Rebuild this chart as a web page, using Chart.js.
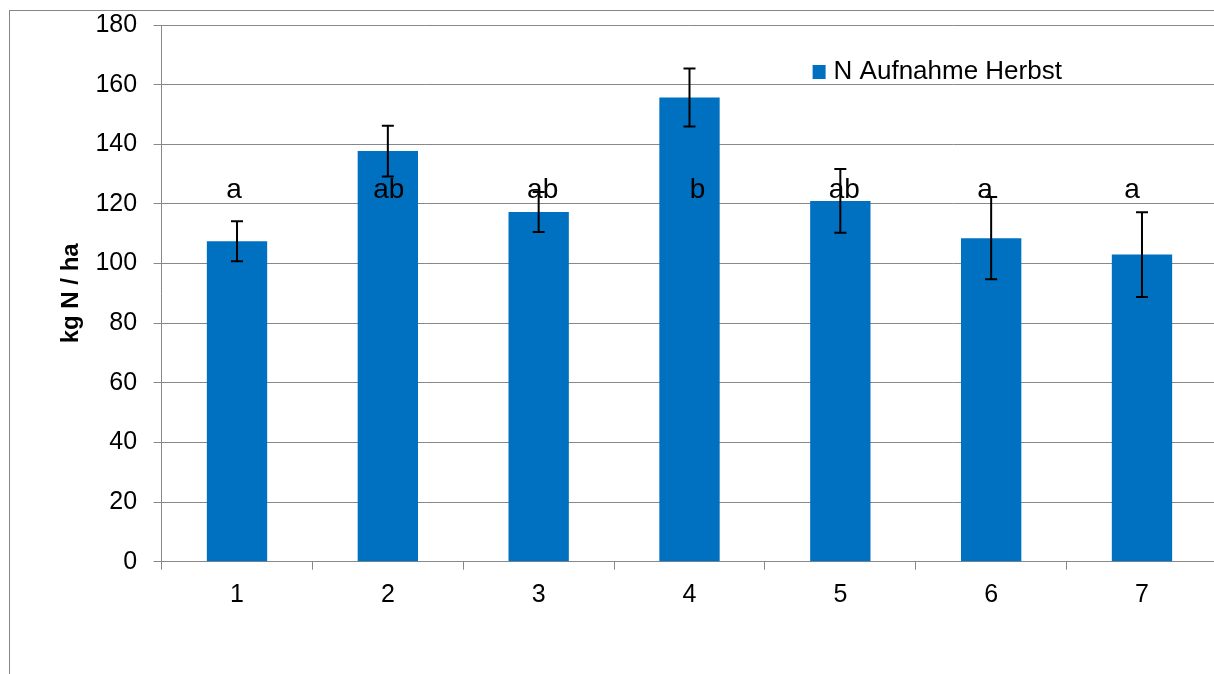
<!DOCTYPE html>
<html>
<head>
<meta charset="utf-8">
<title>N Aufnahme Herbst</title>
<script src="https://cdn.jsdelivr.net/npm/chart.js@4.4.1/dist/chart.umd.min.js"></script>
<style>
  html, body { margin: 0; padding: 0; background: #fff; overflow: hidden; }
  /* outer chart frame (only left/top edges fall inside the window) */
  #frame { position: absolute; left: 9px; top: 10px; width: 1300px; height: 700px;
           border-left: 1px solid #868686; border-top: 1px solid #868686; }
  #box { position: absolute; left: 0; top: 0; width: 1240px; height: 674px; }
</style>
</head>
<body>
<div id="frame"></div>
<div id="box"><canvas id="chartN"></canvas></div>
<script>
/* ---- data ---- */
const categories   = ['1', '2', '3', '4', '5', '6', '7'];
const nUptake      = [107.5, 137.7, 117.3, 155.7, 121.0, 108.5, 103.0];   // kg N / ha
const nUptakeSd    = [6.7, 8.5, 6.7, 9.7, 10.7, 13.8, 14.2];
const groupLetters = ['a', 'ab', 'ab', 'b', 'ab', 'a', 'a'];
const seriesName   = 'N Aufnahme Herbst';

const FONT = "'Liberation Sans', Arial, sans-serif";
const BLUE = '#0070c0';
const GRID = '#888888';

/* error bars (± sd) */
const errorBars = {
  id: 'errorBars',
  afterDatasetsDraw(chart) {
    const bars = chart.getDatasetMeta(0).data;
    const y = chart.scales.y;
    const ctx = chart.ctx;
    ctx.save();
    ctx.strokeStyle = '#000';
    ctx.lineWidth = 2;
    bars.forEach((bar, i) => {
      const top = y.getPixelForValue(nUptake[i] + nUptakeSd[i]);
      const bot = y.getPixelForValue(nUptake[i] - nUptakeSd[i]);
      ctx.beginPath();
      ctx.moveTo(bar.x, top);     ctx.lineTo(bar.x, bot);
      ctx.moveTo(bar.x - 6, top); ctx.lineTo(bar.x + 6, top);
      ctx.moveTo(bar.x - 6, bot); ctx.lineTo(bar.x + 6, bot);
      ctx.stroke();
    });
    ctx.restore();
  }
};

/* significance letters on one common level, plus the legend inside the plot */
const letterNudge = [-3, 1, 4, 8, 4, -6, -10];
const annotations = {
  id: 'annotations',
  afterDraw(chart) {
    const bars = chart.getDatasetMeta(0).data;
    const area = chart.chartArea;
    const ctx = chart.ctx;
    const yLevel = chart.scales.y.getPixelForValue(122);
    ctx.save();
    ctx.fillStyle = '#000';
    ctx.font = '28px ' + FONT;
    ctx.textAlign = 'center';
    ctx.textBaseline = 'alphabetic';
    bars.forEach((bar, i) => ctx.fillText(groupLetters[i], bar.x + letterNudge[i], yLevel));

    // legend
    const lx = area.left + 651, ly = area.top + 40;
    ctx.fillStyle = BLUE;
    ctx.fillRect(lx, ly, 13, 14);
    ctx.fillStyle = '#000';
    ctx.font = '26px ' + FONT;
    ctx.textAlign = 'left';
    ctx.textBaseline = 'middle';
    ctx.fillText(seriesName, lx + 21, ly + 7);
    ctx.restore();
  }
};

new Chart(document.getElementById('chartN'), {
  type: 'bar',
  data: {
    labels: categories,
    datasets: [{
      label: seriesName,
      data: nUptake,
      backgroundColor: BLUE,
      borderWidth: 0,
      barPercentage: 0.4,
      categoryPercentage: 1.0
    }]
  },
  options: {
    responsive: true,
    maintainAspectRatio: false,
    animation: false,
    layout: { padding: { left: 0, top: 25, right: 22.6, bottom: 52.3 } },
    plugins: { legend: { display: false }, tooltip: { enabled: false } },
    scales: {
      x: {
        afterFit(scale) { scale.height = 60; },
        grid: { display: true, drawOnChartArea: false, drawTicks: true, tickLength: 8, color: GRID, lineWidth: 1 },
        border: { display: true, color: GRID, width: 1 },
        ticks: { color: '#000', font: { family: FONT, size: 25 }, padding: 10 }
      },
      y: {
        min: 0,
        max: 180,
        afterFit(scale) {
          scale.width = 161.6;
          // the top label may overhang into the padding
          scale.paddingTop = 0;
          scale.paddingBottom = 0;
        },
        grid: { color: GRID, lineWidth: 1, tickLength: 8 },
        border: { display: true, color: GRID, width: 1 },
        ticks: { stepSize: 20, color: '#000', font: { family: FONT, size: 25 }, padding: 16.5 },
        title: {
          display: true,
          text: 'kg N / ha',
          color: '#000',
          font: { family: FONT, size: 24, weight: 'bold' },
          padding: { top: 57, bottom: 0 }
        }
      }
    }
  },
  plugins: [errorBars, annotations]
});
</script>
</body>
</html>
